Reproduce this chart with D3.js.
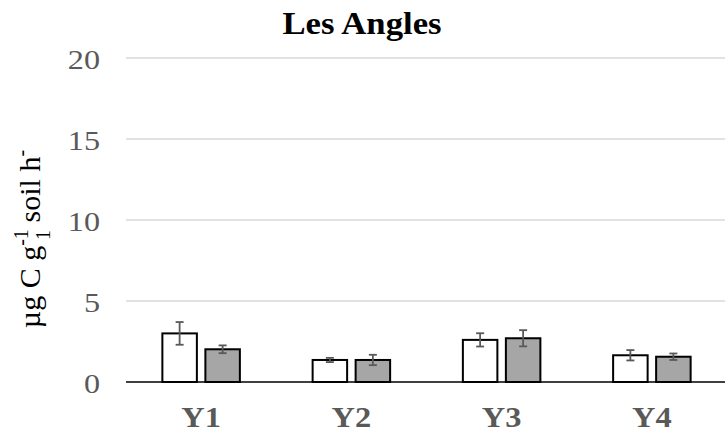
<!DOCTYPE html>
<html><head><meta charset="utf-8">
<script src="https://cdn.jsdelivr.net/npm/d3@7"></script>
<style>body{margin:0;background:#fff;} svg{display:block;}</style>
</head><body>
<svg id="chart" width="725" height="435"></svg>
<script>
const categories = ["Y1","Y2","Y3","Y4"];
const series1 = [3.0, 1.36, 2.6, 1.65];
const series1Err = [0.7, 0.13, 0.41, 0.32];
const series2 = [2.02, 1.36, 2.7, 1.56];
const series2Err = [0.24, 0.32, 0.5, 0.2];
const yTicks = [0,5,10,15,20];

const svg = d3.select("#chart");
const m = {left:126, right:-2, top:58, bottom:53};
const W = 725, H = 435;
const x = d3.scaleBand().domain(categories).range([m.left, W - m.right]).paddingInner(0).paddingOuter(0);
const y = d3.scaleLinear().domain([0,20]).range([H - m.bottom, m.top]);
const font = "'Liberation Serif','Times New Roman',serif";

// gridlines
svg.append("g").selectAll("line").data(yTicks.filter(d=>d>0)).join("line")
  .attr("x1", m.left).attr("x2", W).attr("y1", d=>y(d)).attr("y2", d=>y(d))
  .attr("stroke","#d9d9d9").attr("stroke-width",1.3);

// y tick labels
svg.append("g").selectAll("text").data(yTicks).join("text")
  .attr("transform", d=>`translate(100,${y(d)+10.5}) scale(1.15,1)`).attr("text-anchor","end")
  .attr("font-family",font).attr("font-size",28).attr("fill","#595959").text(d=>d);

const bw = 34.5, gap = 8.5;
const data = [];
categories.forEach((c,i)=>{
  data.push({c, v:series1[i], e:series1Err[i], k:0});
  data.push({c, v:series2[i], e:series2Err[i], k:1});
});
const bx = d => x(d.c) + x.bandwidth()/2 + (d.k===0 ? -gap/2 - bw : gap/2);

svg.append("g").selectAll("rect").data(data).join("rect")
  .attr("x", bx).attr("width", bw)
  .attr("y", d=>y(d.v)).attr("height", d=>y(0)-y(d.v))
  .attr("fill", d=>d.k===0 ? "#ffffff" : "#a6a6a6")
  .attr("stroke","#000").attr("stroke-width",2);

// axis line
svg.append("line").attr("x1", m.left).attr("x2", W).attr("y1", y(0)).attr("y2", y(0))
  .attr("stroke","#000").attr("stroke-width",1.5);

// error bars
const eb = svg.append("g").attr("stroke","#595959").attr("stroke-width",1.8);
data.forEach(d=>{
  const cx = bx(d) + bw/2;
  eb.append("line").attr("x1",cx).attr("x2",cx).attr("y1",y(d.v+d.e)).attr("y2",y(d.v-d.e));
  eb.append("line").attr("x1",cx-4).attr("x2",cx+4).attr("y1",y(d.v+d.e)).attr("y2",y(d.v+d.e));
  eb.append("line").attr("x1",cx-4).attr("x2",cx+4).attr("y1",y(d.v-d.e)).attr("y2",y(d.v-d.e));
});

// category labels
svg.append("g").selectAll("text").data(categories).join("text")
  .attr("transform", d=>`translate(${x(d)+x.bandwidth()/2},427) scale(1.08,1)`).attr("text-anchor","middle")
  .attr("font-family",font).attr("font-weight","bold").attr("font-size",30).attr("fill","#595959").text(d=>d);

// title
svg.append("text").attr("transform","translate(362,34) scale(1.12,1)").attr("text-anchor","middle")
  .attr("font-family",font).attr("font-weight","bold").attr("font-size",31).attr("fill","#000").text("Les Angles");

// y label
const yl = svg.append("text").attr("transform","translate(40,239) rotate(-90)")
  .attr("text-anchor","middle").attr("font-family",font).attr("font-size",30).attr("fill","#000");
yl.append("tspan").text("µg C g");
yl.append("tspan").attr("dy",-12).attr("font-size",20).text("-1");
yl.append("tspan").attr("dy",22).attr("dx",-10).attr("font-size",20).text("1");
yl.append("tspan").attr("dy",-10).text(" soil h");
yl.append("tspan").attr("dy",-12).attr("font-size",20).text("-");
</script>
</body></html>
